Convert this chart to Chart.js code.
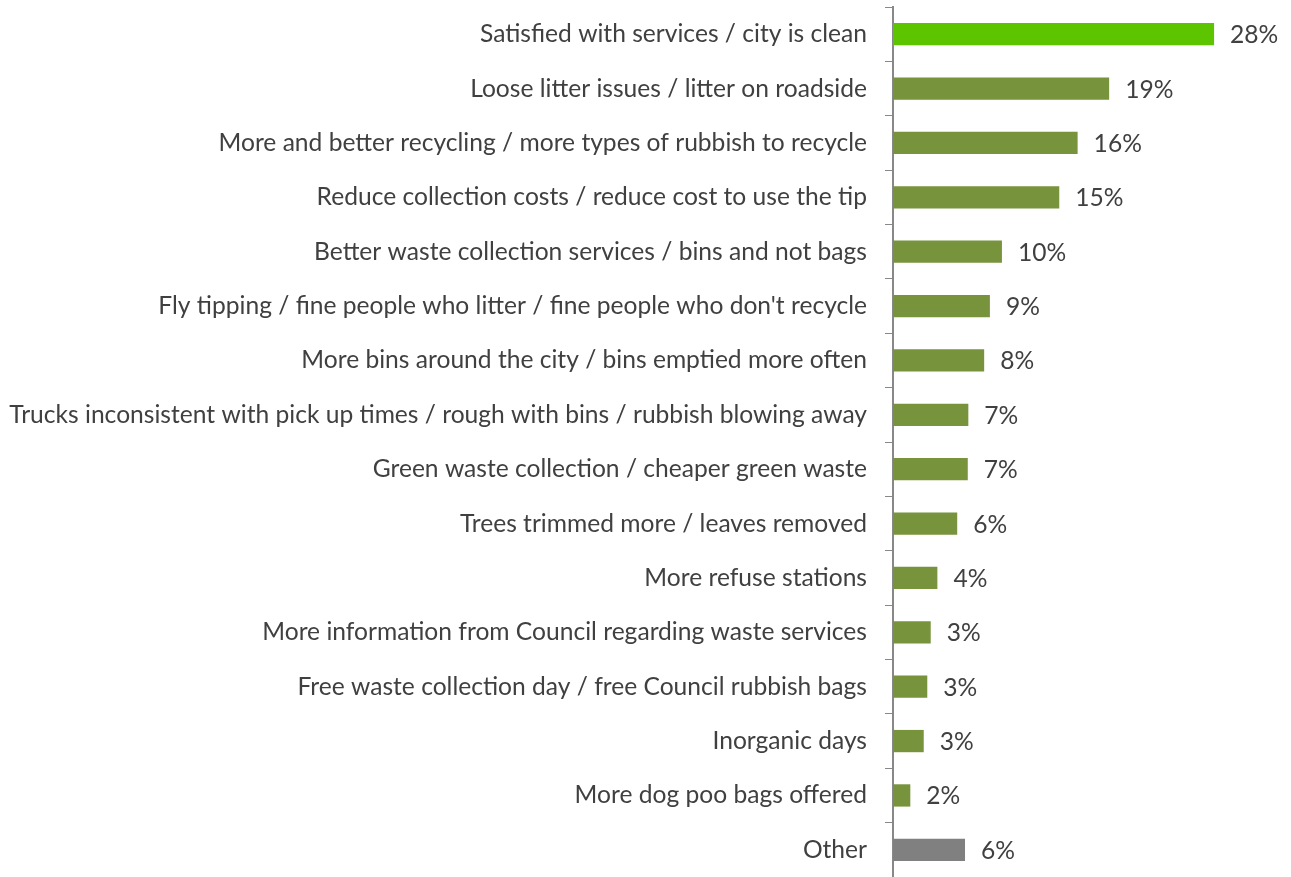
<!DOCTYPE html>
<html>
<head>
<meta charset="utf-8">
<script src="https://cdn.jsdelivr.net/npm/chart.js@4"></script>
<style>
  html, body { margin: 0; padding: 0; background: #fff; }
  #wrap { width: 1291px; height: 877px; position: relative; }
</style>
</head>
<body>
<div id="wrap"><canvas id="barChart"></canvas></div>
<script>
const categories = [
    "Satisfied with services / city is clean",
    "Loose litter issues / litter on roadside",
    "More and better recycling / more types of rubbish to recycle",
    "Reduce collection costs / reduce cost to use the tip",
    "Better waste collection services / bins and not bags",
    "Fly tipping / fine people who litter / fine people who don't recycle",
    "More bins around the city / bins emptied more often",
    "Trucks inconsistent with pick up times / rough with bins / rubbish blowing away",
    "Green waste collection / cheaper green waste",
    "Trees trimmed more / leaves removed",
    "More refuse stations",
    "More information from Council regarding waste services",
    "Free waste collection day / free Council rubbish bags",
    "Inorganic days",
    "More dog poo bags offered",
    "Other"
];
// values
const values = [28.0, 18.85, 16.1, 14.5, 9.5, 8.45, 7.95, 6.57, 6.52, 5.6, 3.87, 3.29, 2.99, 2.68, 1.51, 6.28];
// printed labels as shown on the chart
const valueLabels = ["28%", "19%", "16%", "15%", "10%", "9%", "8%", "7%", "7%", "6%", "4%", "3%", "3%", "3%", "2%", "6%"];
const barColors = [
    "#5cc500", "#77933c", "#77933c", "#77933c", "#77933c", "#77933c", "#77933c", "#77933c",
    "#77933c", "#77933c", "#77933c", "#77933c", "#77933c", "#77933c", "#77933c", "#808080"
];

const labelFont = "24.6px Lato";

// draws the "28%" style labels at the end of each bar
const endLabels = {
    id: "endLabels",
    afterDatasetsDraw(chart) {
        const ctx = chart.ctx;
        const meta = chart.getDatasetMeta(0);
        ctx.save();
        ctx.font = labelFont;
        ctx.fillStyle = "#404040";
        ctx.textAlign = "left";
        ctx.textBaseline = "middle";
        meta.data.forEach((bar, i) => {
            ctx.fillText(valueLabels[i], bar.x + 16, bar.y + 1);
        });
        ctx.restore();
    }
};

new Chart(document.getElementById("barChart"), {
    type: "bar",
    data: {
        labels: categories,
        datasets: [{
            data: values,
            backgroundColor: barColors,
            borderWidth: 0,
            barPercentage: 0.41,
            categoryPercentage: 1
        }]
    },
    options: {
        indexAxis: "y",
        responsive: true,
        maintainAspectRatio: false,
        animation: false,
        layout: { padding: { top: 7, right: 54, bottom: 0, left: 0 } },
        plugins: {
            legend: { display: false },
            tooltip: { enabled: false }
        },
        scales: {
            x: {
                display: false,
                min: 0,
                max: 30
            },
            y: {
                offset: true,
                grid: {
                    display: true,
                    drawOnChartArea: false,
                    drawTicks: true,
                    tickLength: 8,
                    color: "#888888",
                    offset: true
                },
                border: { display: true, color: "#888888", width: 2 },
                ticks: {
                    color: "#404040",
                    font: { family: "Lato", size: 24.6 },
                    padding: 18,
                    autoSkip: false
                },
                afterFit(scale) {
                    // keep the long labels from being squeezed
                    scale.width = 893;
                    scale.paddingTop = 0;
                    scale.paddingBottom = 0;
                }
            }
        }
    },
    plugins: [endLabels]
});
</script>
</body>
</html>
